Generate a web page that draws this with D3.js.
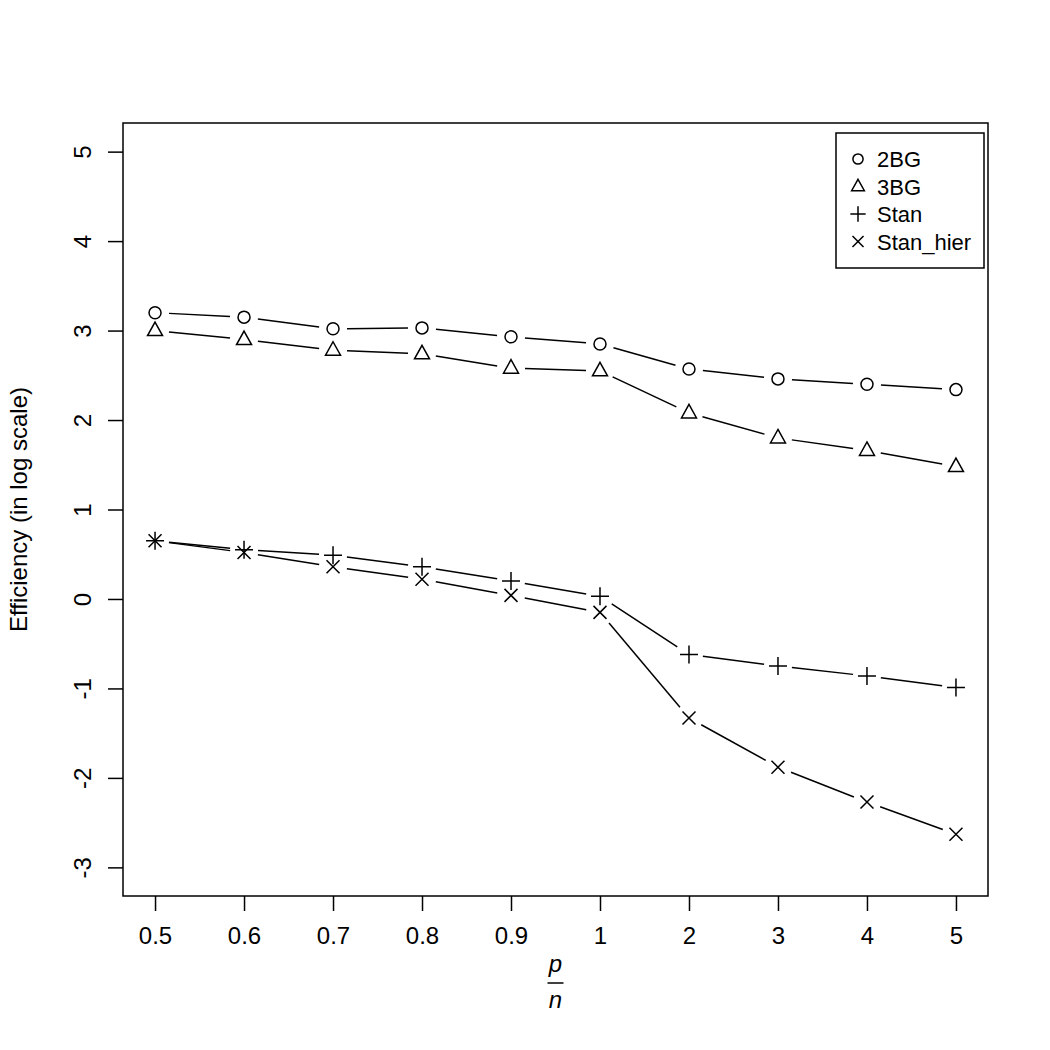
<!DOCTYPE html>
<html>
<head>
<meta charset="utf-8">
<script src="https://cdn.jsdelivr.net/npm/d3@7"></script>
<style>
  body { margin: 0; background: #fff; }
  svg { display: block; font-family: "Liberation Sans", Arial, sans-serif; }
</style>
</head>
<body>
<div id="chart"></div>
<script>
// x categories (p/n)
const ratios = ["0.5", "0.6", "0.7", "0.8", "0.9", "1", "2", "3", "4", "5"];
const yTicks = [-3, -2, -1, 0, 1, 2, 3, 4, 5];

// efficiency (log scale) per method
const twoBG    = [3.20, 3.15, 3.02, 3.03, 2.93, 2.85, 2.57, 2.46, 2.40, 2.34];
const threeBG  = [3.00, 2.90, 2.78, 2.74, 2.58, 2.55, 2.08, 1.80, 1.66, 1.48];
const stan     = [0.65, 0.55, 0.49, 0.36, 0.20, 0.03, -0.62, -0.75, -0.86, -0.99];
const stanHier = [0.65, 0.52, 0.36, 0.22, 0.04, -0.15, -1.33, -1.88, -2.27, -2.63];

const seriesNames = ["2BG", "3BG", "Stan", "Stan_hier"];
const seriesShapes = ["circle", "triangle", "plus", "cross"];
const seriesValues = [twoBG, threeBG, stan, stanHier];

const W = 1050, H = 1050;
const box = { left: 123, right: 988, top: 123, bottom: 896 };

const svg = d3.select("#chart").append("svg")
    .attr("width", W)
    .attr("height", H);

const x = d3.scalePoint()
    .domain(ratios)
    .range([box.left, box.right])
    .padding(0.36);

const y = d3.scaleLinear()
    .domain([-3.32, 5.32])
    .range([box.bottom, box.top]);

// plot frame
svg.append("rect")
    .attr("x", box.left).attr("y", box.top)
    .attr("width", box.right - box.left)
    .attr("height", box.bottom - box.top)
    .attr("fill", "none").attr("stroke", "#000").attr("stroke-width", 1.5);

// x axis
const xAxis = svg.append("g")
    .attr("transform", `translate(0,${box.bottom})`)
    .call(d3.axisBottom(x).tickSize(15).tickPadding(16));
xAxis.select(".domain").remove();
xAxis.selectAll(".tick line").attr("stroke-width", 1.5);
xAxis.selectAll(".tick text")
    .attr("font-size", 24)
    .attr("font-family", "Liberation Sans, Arial, sans-serif")
    .attr("fill", "#000");

// y axis (plain hyphen for negatives, like R)
const yAxis = svg.append("g")
    .attr("transform", `translate(${box.left},0)`)
    .call(d3.axisLeft(y).tickValues(yTicks).tickSize(15).tickFormat(d => String(d)));
yAxis.select(".domain").remove();
yAxis.selectAll(".tick line").attr("stroke-width", 1.5);
yAxis.selectAll(".tick text")
    .attr("font-size", 24)
    .attr("font-family", "Liberation Sans, Arial, sans-serif")
    .attr("fill", "#000")
    .attr("x", null).attr("dy", null)
    .attr("text-anchor", "middle")
    .attr("transform", "translate(-32,0) rotate(-90)");

// y axis title
svg.append("text")
    .attr("transform", `translate(27,${(box.top + box.bottom) / 2}) rotate(-90)`)
    .attr("text-anchor", "middle")
    .attr("font-size", 24)
    .text("Efficiency (in log scale)");

// x axis title: p over n
const cx = (box.left + box.right) / 2;
svg.append("text")
    .attr("x", cx).attr("y", 972)
    .attr("text-anchor", "middle")
    .attr("font-size", 24).attr("font-style", "italic")
    .text("p");
svg.append("line")
    .attr("x1", cx - 8).attr("x2", cx + 8)
    .attr("y1", 983).attr("y2", 983)
    .attr("stroke", "#000").attr("stroke-width", 1.5);
svg.append("text")
    .attr("x", cx).attr("y", 1008)
    .attr("text-anchor", "middle")
    .attr("font-size", 24).attr("font-style", "italic")
    .text("n");

// symbol drawing helper
function drawSymbol(g, shape, px, py, k) {
    const s = g.append("g").attr("transform", `translate(${px},${py}) scale(${k})`)
        .attr("fill", "none").attr("stroke", "#000").attr("stroke-width", 1.5 / k);
    if (shape === "circle") {
        s.append("circle").attr("r", 6);
    } else if (shape === "triangle") {
        s.append("path").attr("d", "M0,-8.5 L7.5,5 L-7.5,5 Z");
    } else if (shape === "plus") {
        s.append("path").attr("d", "M-9,0 H9 M0,-9 V9");
    } else {
        s.append("path").attr("d", "M-6.5,-6.5 L6.5,6.5 M-6.5,6.5 L6.5,-6.5");
    }
}

// lines with gaps (type = "b") and points
const gap = 14;
seriesValues.forEach((vals, si) => {
    const g = svg.append("g");
    const pts = vals.map((v, i) => [x(ratios[i]), y(v)]);
    for (let i = 0; i < pts.length - 1; i++) {
        const [x0, y0] = pts[i], [x1, y1] = pts[i + 1];
        const len = Math.hypot(x1 - x0, y1 - y0);
        if (len <= 2 * gap) continue;
        const ux = (x1 - x0) / len, uy = (y1 - y0) / len;
        g.append("line")
            .attr("x1", x0 + ux * gap).attr("y1", y0 + uy * gap)
            .attr("x2", x1 - ux * gap).attr("y2", y1 - uy * gap)
            .attr("stroke", "#000").attr("stroke-width", 1.5);
    }
    pts.forEach(p => drawSymbol(g, seriesShapes[si], p[0], p[1], 1));
});

// legend
const legend = svg.append("g");
legend.append("rect")
    .attr("x", 836).attr("y", 133)
    .attr("width", 148).attr("height", 135)
    .attr("fill", "#fff").attr("stroke", "#000").attr("stroke-width", 1.5);
seriesNames.forEach((name, i) => {
    const ly = 159 + i * 27.5;
    drawSymbol(legend, seriesShapes[i], 858, ly, 0.85);
    legend.append("text")
        .attr("x", 877).attr("y", ly + 8)
        .attr("font-size", 22)
        .text(name);
});
</script>
</body>
</html>
